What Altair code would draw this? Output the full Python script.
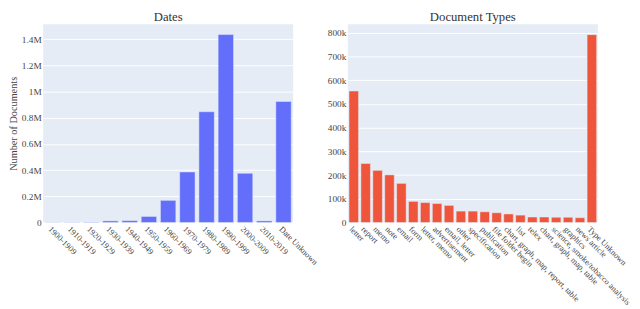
import altair as alt
import pandas as pd

# ---- data ----
date_bins = ["1900-1909", "1910-1919", "1920-1929", "1930-1939", "1940-1949",
             "1950-1959", "1960-1969", "1970-1979", "1980-1989", "1990-1999",
             "2000-2009", "2010-2019", "Date Unknown"]
date_counts = [1000, 1500, 3000, 12000, 14000, 46000, 169000, 386000,
               846000, 1436000, 376000, 12000, 925000]

doc_types = ["letter", "report", "memo", "note", "email", "form", "letter, memo",
             "advertisement", "email, letter", "other", "specification",
             "publication", "file folder begin", "chart, graph, map, report, table",
             "list", "telex", "chart, graph, map, table",
             "science, smoke/tobacco analysis", "graphics", "news article",
             "Type Unknown"]
doc_counts = [555000, 249000, 220000, 201000, 165000, 89000, 84000, 80000,
              72000, 48000, 48000, 45000, 41000, 36000, 31000, 23000, 23000,
              22000, 22000, 20000, 793000]

left_ticks = [0, 200000, 400000, 600000, 800000, 1000000, 1200000, 1400000]
right_ticks = [0, 100000, 200000, 300000, 400000, 500000, 600000, 700000, 800000]

FONT = "Times New Roman, Liberation Serif, DejaVu Serif, serif"
TXT = "#444444"
BG = "#E5ECF6"

df_dates = pd.DataFrame({"cat": date_bins, "count": date_counts})
df_types = pd.DataFrame({"cat": doc_types, "count": doc_counts})

W, H = 256, 203


def xaxis():
    return alt.Axis(labelAngle=45, ticks=False, domain=False, grid=False,
                    labelPadding=2, labelFont=FONT, labelFontSize=8.5,
                    labelColor=TXT, labelOverlap=False, labelLimit=0,
                    labelAlign="left", labelBaseline="top")


left = alt.Chart(df_dates).mark_bar(
    color="#636EFA", stroke=BG, strokeWidth=0.5
).encode(
    x=alt.X("cat:N", sort=None, title=None,
            scale=alt.Scale(paddingInner=0.2, paddingOuter=0.1), axis=xaxis()),
    y=alt.Y("count:Q", title="Number of Documents",
            scale=alt.Scale(domain=[0, 1515000], nice=False),
            axis=alt.Axis(values=left_ticks,
                          labelExpr="datum.value == 0 ? '0' : format(datum.value/1000000, '~g') + 'M'",
                          ticks=False, domain=False, gridColor="white", gridWidth=1,
                          labelPadding=2, labelFont=FONT, labelFontSize=9.5,
                          labelColor=TXT, titleFont=FONT, titleFontSize=10.5,
                          titleFontWeight="normal", titleColor=TXT, titlePadding=3)),
).properties(
    width=W, height=H,
    title=alt.TitleParams("Dates", font=FONT, fontSize=13, fontWeight="normal",
                          color="#333333", anchor="middle", offset=0),
)

right = alt.Chart(df_types).mark_bar(
    color="#EF553B", stroke=BG, strokeWidth=0.5
).encode(
    x=alt.X("cat:N", sort=None, title=None,
            scale=alt.Scale(paddingInner=0.2, paddingOuter=0.1), axis=xaxis()),
    y=alt.Y("count:Q", title=None,
            scale=alt.Scale(domain=[0, 837000], nice=False),
            axis=alt.Axis(values=right_ticks,
                          labelExpr="datum.value == 0 ? '0' : (datum.value/1000) + 'k'",
                          ticks=False, domain=False, gridColor="white", gridWidth=1,
                          labelPadding=2, labelFont=FONT, labelFontSize=9.5,
                          labelColor=TXT)),
).properties(
    width=W, height=H,
    title=alt.TitleParams("Document Types", font=FONT, fontSize=13, fontWeight="normal",
                          color="#333333", anchor="middle", offset=0),
)

chart = alt.hconcat(left, right, spacing=56, bounds="flush").properties(
    padding=0
).configure_view(fill=BG, stroke=None)

chart.save("out.html", embed_options={"renderer": "svg", "actions": False})
